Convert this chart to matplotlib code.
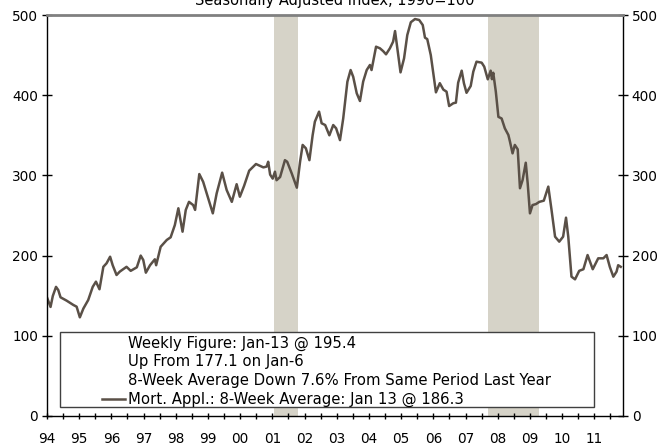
import matplotlib
matplotlib.use("Agg")
import matplotlib.pyplot as plt
from matplotlib.lines import Line2D
from matplotlib.patches import Rectangle
from matplotlib.ticker import MultipleLocator, FuncFormatter

# mortgage applications, 8-week average
years = [1994.01, 1994.11, 1994.18, 1994.28, 1994.35, 1994.42, 1994.61, 1994.82, 1994.92,
         1995.02, 1995.13, 1995.28, 1995.42, 1995.52, 1995.63, 1995.75, 1995.85, 1995.96,
         1996.04, 1996.16, 1996.26, 1996.47, 1996.60, 1996.79, 1996.91, 1996.99,
         1997.07, 1997.20, 1997.35, 1997.39, 1997.53, 1997.72, 1997.84, 1997.97,
         1998.08, 1998.21, 1998.31, 1998.41, 1998.54, 1998.60, 1998.73, 1998.85, 1998.96,
         1999.15, 1999.27, 1999.44, 1999.58, 1999.74, 1999.89, 1999.99,
         2000.12, 2000.28, 2000.49, 2000.72, 2000.82, 2000.87, 2000.93,
         2001.01, 2001.08, 2001.13, 2001.24, 2001.39, 2001.46, 2001.60, 2001.76, 2001.86, 2001.94,
         2002.04, 2002.15, 2002.25, 2002.32, 2002.45, 2002.53, 2002.64, 2002.77, 2002.89, 2002.98,
         2003.10, 2003.20, 2003.33, 2003.43, 2003.51, 2003.62, 2003.72, 2003.82, 2003.93,
         2004.03, 2004.08, 2004.22, 2004.34, 2004.44, 2004.53, 2004.65, 2004.75, 2004.81, 2004.88, 2004.98,
         2005.09, 2005.19, 2005.30, 2005.43, 2005.56, 2005.67, 2005.74, 2005.81, 2005.92,
         2006.00, 2006.08, 2006.20, 2006.31, 2006.41, 2006.49, 2006.62, 2006.70, 2006.77, 2006.88, 2006.95,
         2007.03, 2007.16, 2007.24, 2007.34, 2007.50, 2007.58, 2007.69, 2007.78, 2007.82, 2007.86, 2007.94,
         2008.02, 2008.12, 2008.22, 2008.33, 2008.38, 2008.46, 2008.53, 2008.62, 2008.69, 2008.77, 2008.87, 2008.93,
         2009.00, 2009.08, 2009.19, 2009.29, 2009.43, 2009.57, 2009.67, 2009.78, 2009.91,
         2010.03, 2010.12, 2010.19, 2010.29, 2010.40, 2010.53, 2010.66, 2010.79, 2010.95,
         2011.12, 2011.28, 2011.38, 2011.48, 2011.59, 2011.69, 2011.74, 2011.82]
mort = [146.7, 136, 149.6, 161, 157, 148, 143.8, 138.4, 136.3,
        123, 134, 144.6, 161, 167.5, 158, 186, 190.4, 198.6,
        188, 175.8, 180, 186, 181, 185.4, 200, 194.5,
        178.7, 188, 195.4, 188, 211, 219.5, 222.8, 238,
        259, 229.8, 256.9, 267, 263, 257, 301.7, 292, 277.6,
        252.7, 277.6, 303.4, 281.8, 267, 289, 273.4,
        286.8, 305.9, 314.2, 310, 311, 317, 301,
        296, 304.6, 294, 298, 319, 317, 302.6, 284.7, 317, 338,
        333.8, 319, 350, 367, 379.5, 365, 362.8, 350, 362.8, 358.7,
        344, 371, 416.9, 431.4, 423, 402.4, 392.8, 417, 431.4,
        437.7, 431.4, 460.5, 458.5, 455, 451, 458.5, 466.8, 480, 458.5, 428.5,
        446, 475, 491, 495, 493.8, 487.5, 471.7, 470, 450,
        427, 403.6, 415, 407, 404.4, 386.5, 390, 390.7, 415.6, 430.6, 414.8,
        403, 411.5, 429.3, 441.8, 440.6, 435.6, 419.8, 430.6, 420, 428, 404.4,
        373, 371, 358.7, 350.4, 342, 327.5, 338, 332.5, 284, 294, 315.8, 290,
        252.7, 263, 264.3, 267, 268.5, 286, 257, 223.6, 217.4,
        223.6, 247.3, 223.6, 173.7, 170.4, 181, 183, 200.7, 183,
        196.6, 196.6, 200.7, 186, 173.7, 180, 188, 186]

recessions = [(2001.05, 2001.80), (2007.70, 2009.28)]

legend_lines = ["Weekly Figure: Jan-13 @ 195.4",
                "Up From 177.1 on Jan-6",
                "8-Week Average Down 7.6% From Same Period Last Year",
                "Mort. Appl.: 8-Week Average: Jan 13 @ 186.3"]

line_col = "#5a5047"
shade_col = "#d6d3c8"

fig = plt.figure(figsize=(6.62, 4.47), dpi=100)
ax = fig.add_axes([0.0710, 0.0694, 0.8696, 0.8970])

for a, b in recessions:
    ax.axvspan(a, b, color=shade_col, lw=0, zorder=0)

ax.plot(years, mort, color=line_col, lw=1.8, zorder=2)

ax.set_xlim(1994, 2011.88)
ax.set_ylim(0, 500)
ax.set_yticks(range(0, 501, 100))
ax.xaxis.set_major_locator(MultipleLocator(1))
ax.xaxis.set_minor_locator(MultipleLocator(0.5))
ax.xaxis.set_major_formatter(FuncFormatter(lambda v, p: "%02d" % (int(round(v)) % 100)))

ax.tick_params(axis="y", direction="inout", length=7, width=1, labelsize=9.8,
               left=True, right=True, labelleft=True, labelright=True, pad=3)
ax.tick_params(axis="x", which="both", direction="inout", length=5, width=1,
               labelsize=9.8, pad=9)

for s in ["left", "right", "bottom"]:
    ax.spines[s].set_color("black")
    ax.spines[s].set_linewidth(1)
ax.spines["top"].set_color("#808080")
ax.spines["top"].set_linewidth(2)

# legend box with the notes
ax.add_patch(Rectangle((0.0226, 0.0232), 0.9281, 0.1855, transform=ax.transAxes,
                       facecolor="white", edgecolor="#404040", lw=1, zorder=5))
row_y = [0.1813, 0.1354, 0.0880, 0.0424]
for txt, yy in zip(legend_lines, row_y):
    ax.text(0.1412, yy, txt, transform=ax.transAxes, fontsize=10.7,
            va="center", ha="left", zorder=6)
ax.add_line(Line2D([0.095, 0.1355], [0.0424, 0.0424], transform=ax.transAxes,
                   color=line_col, lw=1.8, zorder=6))

fig.text(0.506, 1 - 5.5 / 447, "Seasonally Adjusted Index, 1990=100",
         ha="center", va="baseline", fontsize=10.5)

fig.savefig("out.png", dpi=100)
